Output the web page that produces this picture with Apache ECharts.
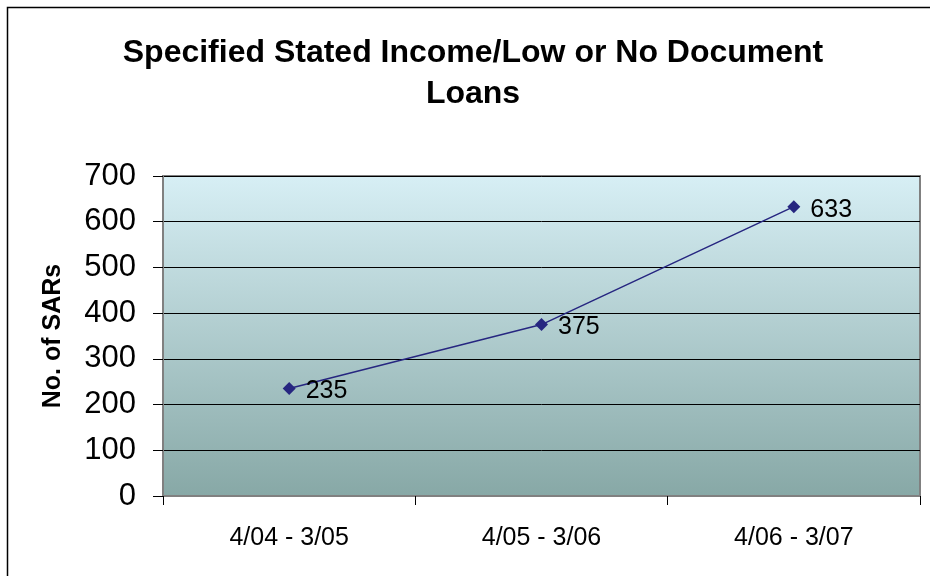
<!DOCTYPE html>
<html><head><meta charset="utf-8">
<script src="https://cdn.jsdelivr.net/npm/echarts@6/dist/echarts.min.js"></script>
<style>html,body{margin:0;padding:0;background:#fff}#c{width:930px;height:576px}</style>
</head><body><div id="c"></div>
<script>
const categories = ['4/04 - 3/05', '4/05 - 3/06', '4/06 - 3/07'];
const values = [235, 375, 633];
const yTicks = [0, 100, 200, 300, 400, 500, 600, 700];

const chart = echarts.init(document.getElementById('c'), null, {renderer: 'canvas'});
chart.setOption({
  animation: false,
  title: {
    text: 'Specified Stated Income/Low or No Document\nLoans',
    left: 468, top: 28, textAlign: 'center',
    textStyle: {fontFamily: 'Liberation Sans, Arial', fontWeight: 'bold', fontSize: 32, lineHeight: 41, color: '#000'}
  },
  graphic: [{
    type: 'rect', shape: {x: 7.5, y: 7.5, width: 940, height: 600},
    style: {fill: 'none', stroke: '#000', lineWidth: 1.5}, z: 100
  }],
  grid: {left: 163, top: 176, right: 10, bottom: 80, show: true, borderColor: '#808080', borderWidth: 2,
    backgroundColor: new echarts.graphic.LinearGradient(0, 0, 0, 1, [
      {offset: 0, color: '#d7eff5'}, {offset: 1, color: '#87a8a6'}])},
  xAxis: {
    type: 'category', data: categories, boundaryGap: true,
    axisLine: {lineStyle: {color: '#808080', width: 2}},
    axisTick: {show: true, length: 9, lineStyle: {color: '#000'}},
    axisLabel: {fontFamily: 'Liberation Sans, Arial', fontSize: 25, color: '#000', margin: 30}
  },
  yAxis: {
    type: 'value', min: yTicks[0], max: yTicks[yTicks.length - 1], interval: 100,
    name: 'No. of SARs', nameLocation: 'middle', nameGap: 97, nameRotate: 90,
    nameTextStyle: {fontFamily: 'Liberation Sans, Arial', fontWeight: 'bold', fontSize: 25, color: '#000'},
    axisLine: {show: true, lineStyle: {color: '#808080', width: 2}},
    axisTick: {show: true, length: 10, lineStyle: {color: '#000'}},
    axisLabel: {fontFamily: 'Liberation Sans, Arial', fontSize: 31, color: '#000', margin: 27},
    splitLine: {show: true, lineStyle: {color: '#000', width: 1}}
  },
  series: [{
    type: 'line', data: values,
    symbol: 'diamond', symbolSize: 13,
    lineStyle: {color: '#262680', width: 1.5},
    itemStyle: {color: '#262680'},
    label: {show: true, position: 'right', distance: 10, offset: [0, 3],
      fontFamily: 'Liberation Sans, Arial', fontSize: 25, color: '#000'}
  }]
});
</script></body></html>
